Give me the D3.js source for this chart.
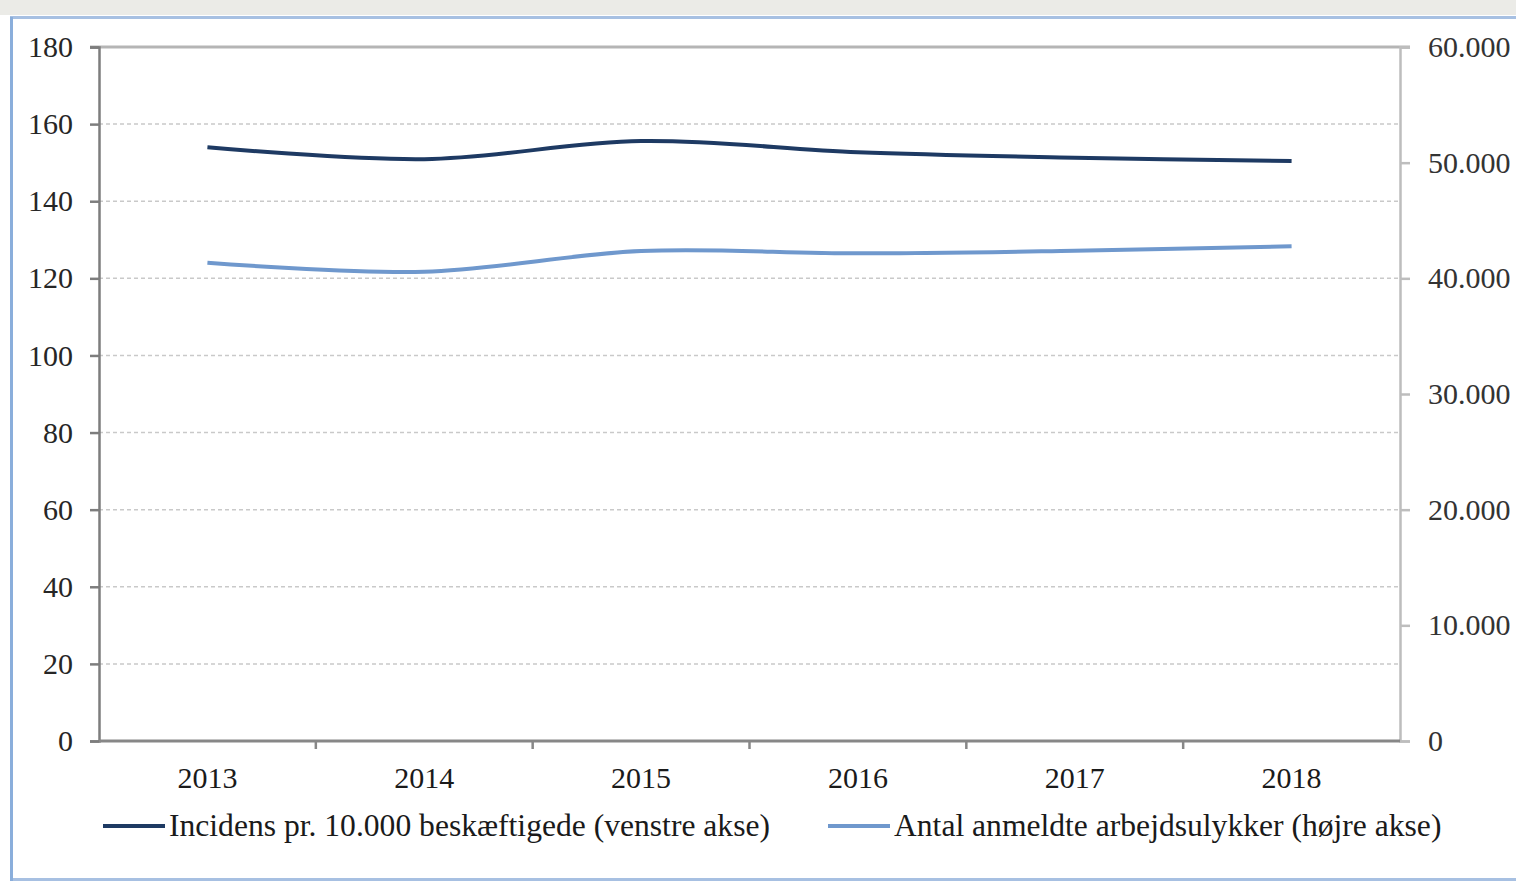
<!DOCTYPE html>
<html>
<head>
  <style>
    html, body { margin: 0; padding: 0; background: #fff; overflow: hidden; }
    svg { display: block; font-family: "Liberation Serif", "Times New Roman", serif; }
  </style>
</head>
<body>
  <script src="https://d3js.org/d3.v7.min.js"></script>
  <script>
// chart data
const years = ["2013", "2014", "2015", "2016", "2017", "2018"];
const incidens = [154.0, 150.9, 155.6, 152.7, 151.3, 150.4];
const anmeldte = [41350, 40570, 42360, 42160, 42390, 42770];
const leftTicks = [0, 20, 40, 60, 80, 100, 120, 140, 160, 180];
const rightTicks = [0, 10000, 20000, 30000, 40000, 50000, 60000];
const legendLabels = [
  "Incidens pr. 10.000 beskæftigede (venstre akse)",
  "Antal anmeldte arbejdsulykker (højre akse)"
];

const width = 1516, height = 883;
const plot = { left: 99, right: 1400, top: 47, bottom: 741 };

const svg = d3.select("body").append("svg")
  .attr("width", width)
  .attr("height", height);

// outer frame
svg.append("rect").attr("x", 0).attr("y", 0).attr("width", width).attr("height", 15).attr("fill", "#ebebe7");
svg.append("rect").attr("x", 11.5).attr("y", 17.5).attr("width", width).attr("height", 862)
  .attr("fill", "none").attr("stroke", "#a7c0e2").attr("stroke-width", 3);
svg.append("line").attr("x1", 11.5).attr("x2", 11.5).attr("y1", 17).attr("y2", 881)
  .attr("stroke", "#8aaedb").attr("stroke-width", 3);

const x = d3.scaleBand().domain(years).range([plot.left, plot.right]);
const yL = d3.scaleLinear().domain([0, 180]).range([plot.bottom, plot.top]);
const yR = d3.scaleLinear().domain([0, 60000]).range([plot.bottom, plot.top]);

// gridlines
svg.append("g").selectAll("line")
  .data(leftTicks.filter(d => d > 0 && d < 180))
  .join("line")
  .attr("x1", plot.left).attr("x2", plot.right)
  .attr("y1", d => yL(d)).attr("y2", d => yL(d))
  .attr("stroke", "#c9c9c9").attr("stroke-width", 1.5)
  .attr("stroke-dasharray", "4,3");

// top border of plot
svg.append("line").attr("x1", plot.left - 9).attr("x2", plot.right + 10)
  .attr("y1", plot.top).attr("y2", plot.top)
  .attr("stroke", "#b5b5b5").attr("stroke-width", 3);

const fmt = d => d3.format(",")(d).replace(/,/g, ".");

// left axis
const leftAxis = svg.append("g")
  .attr("transform", `translate(${plot.left},0)`)
  .call(d3.axisLeft(yL).tickValues(leftTicks).tickSize(9).tickPadding(17));
leftAxis.select(".domain").attr("stroke", "#7d7d7d").attr("stroke-width", 2.5);
leftAxis.selectAll(".tick line").attr("stroke", "#7d7d7d").attr("stroke-width", 2.5);
leftAxis.selectAll("text").attr("fill", "#262626").style("font-size", "30px")
  .style("font-family", "Liberation Serif");

// right axis
const rightAxis = svg.append("g")
  .attr("transform", `translate(${plot.right},0)`)
  .call(d3.axisRight(yR).tickValues(rightTicks).tickSize(10).tickPadding(18).tickFormat(fmt));
rightAxis.select(".domain").attr("stroke", "#bdbdbd").attr("stroke-width", 2.5);
rightAxis.selectAll(".tick line").attr("stroke", "#bdbdbd").attr("stroke-width", 2.5);
rightAxis.selectAll("text").attr("fill", "#333").style("font-size", "30px")
  .style("font-family", "Liberation Serif");

// bottom axis
const bottomAxis = svg.append("g")
  .attr("transform", `translate(0,${plot.bottom})`)
  .call(d3.axisBottom(x).tickSize(0).tickPadding(26));
bottomAxis.select(".domain").remove();
bottomAxis.selectAll("text").attr("fill", "#1a1a1a").style("font-size", "30px")
  .style("font-family", "Liberation Serif");
svg.append("line").attr("x1", plot.left).attr("x2", plot.right)
  .attr("y1", plot.bottom).attr("y2", plot.bottom)
  .attr("stroke", "#878787").attr("stroke-width", 3);
svg.append("g").selectAll("line")
  .data(years.slice(1))
  .join("line")
  .attr("x1", d => x(d)).attr("x2", d => x(d))
  .attr("y1", plot.bottom).attr("y2", plot.bottom + 8)
  .attr("stroke", "#878787").attr("stroke-width", 2.5);

// series
const curve = d3.curveCatmullRom.alpha(0.5);
const lineL = d3.line()
  .x((d, i) => x(years[i]) + x.bandwidth() / 2)
  .y(d => yL(d))
  .curve(curve);
const lineR = d3.line()
  .x((d, i) => x(years[i]) + x.bandwidth() / 2)
  .y(d => yR(d))
  .curve(curve);

svg.append("path").datum(anmeldte).attr("d", lineR)
  .attr("fill", "none").attr("stroke", "#6f98cd").attr("stroke-width", 4);
svg.append("path").datum(incidens).attr("d", lineL)
  .attr("fill", "none").attr("stroke", "#1e3a63").attr("stroke-width", 4);

// legend
const legend = [
  { label: legendLabels[0], color: "#1e3a63", x: 103 },
  { label: legendLabels[1], color: "#6f98cd", x: 828 }
];
const lg = svg.append("g").selectAll("g").data(legend).join("g")
  .attr("transform", d => `translate(${d.x},826)`);
lg.append("line").attr("x1", 0).attr("x2", 62).attr("y1", 0).attr("y2", 0)
  .attr("stroke", d => d.color).attr("stroke-width", 4);
lg.append("text").attr("x", 66).attr("dy", "0.33em")
  .attr("fill", "#1a1a1a").style("font-size", "31.6px")
  .text(d => d.label);
  </script>
</body>
</html>
